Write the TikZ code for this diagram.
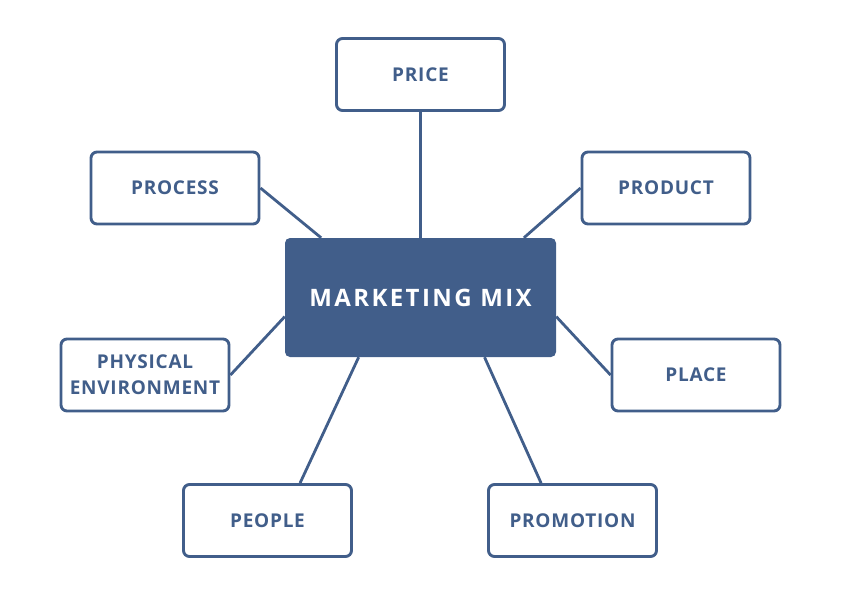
\documentclass[tikz,border=0pt]{standalone}
\usepackage{fontspec}
\setmainfont{Open Sans}
\newfontfamily\hubfont[LetterSpace=10]{Open Sans}
\newfontfamily\itemfont[LetterSpace=4]{Open Sans}
\definecolor{mixblue}{RGB}{65,94,138}
\begin{document}
\begin{tikzpicture}[x=1pt, y=-1pt,
    item/.style={draw=mixblue, line width=2.9pt, rounded corners=6pt, fill=white,
      minimum width=168pt, minimum height=72pt, text=mixblue, align=center,
      font=\itemfont\fontsize{19}{26}\selectfont\bfseries},
    hub/.style={fill=mixblue, rounded corners=5pt, minimum width=271pt, minimum height=119pt,
      text=white, font=\hubfont\fontsize{24}{28}\selectfont\bfseries},
    link/.style={draw=mixblue, line width=2.8pt}]
    \useasboundingbox (0,0) rectangle (842,596);
    \node[hub] (m) at (420.5, 297.5) {MARKETING MIX};
    \node[item] (b) at (420.5, 74.5) {PRICE};
    \node[item] (c) at (175, 188) {PROCESS};
    \node[item] (d) at (666, 188) {PRODUCT};
    \node[item] (e) at (145, 375) {PHYSICAL\\ENVIRONMENT};
    \node[item] (f) at (696, 375) {PLACE};
    \node[item] (g) at (267.5, 520.5) {PEOPLE};
    \node[item] (h) at (572.5, 520.5) {PROMOTION};
    \draw [link] (b) to (m.north);
    \draw [link] (c.east) to (m.149);
    \draw [link] (d.west) to (m.30.5);
    \draw [link] (e.east) to (m.188);
    \draw [link] (f.west) to (m.352);
    \draw [link] (g.49) to (m.224);
    \draw [link] (h.130) to (m.317);
  \end{tikzpicture}
\end{document}
